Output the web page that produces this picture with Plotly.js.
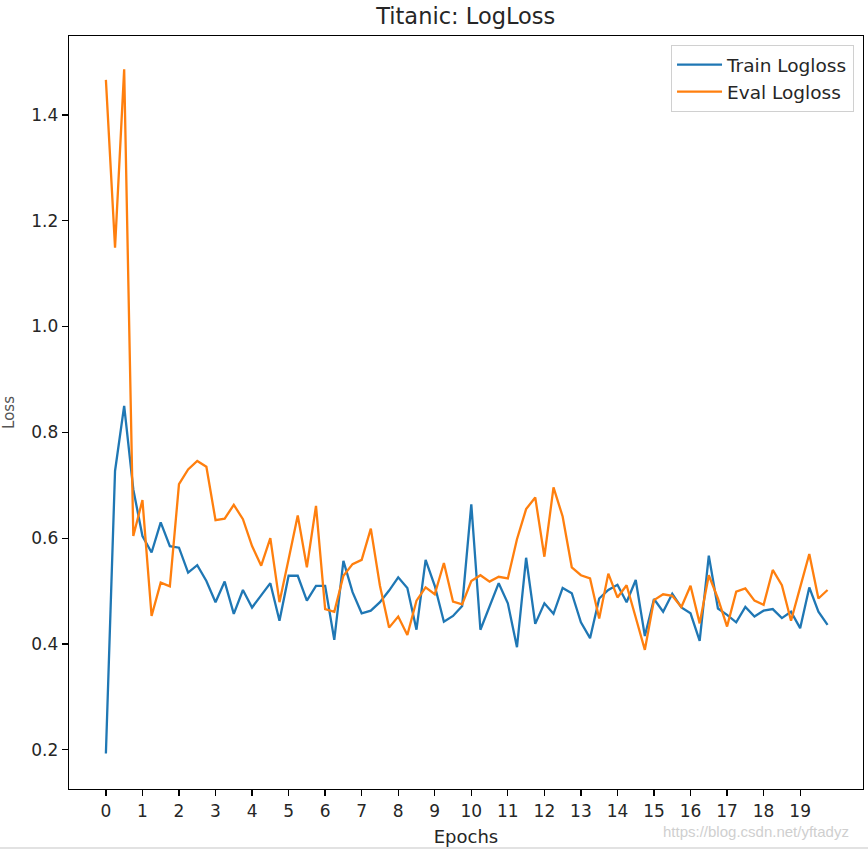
<!DOCTYPE html>
<html>
<head>
<meta charset="utf-8">
<script src="https://cdn.plot.ly/plotly-3.0.1.min.js"></script>
<style>
  html, body { margin: 0; padding: 0; background: #fff; }
  #chart { width: 868px; height: 851px; }
</style>
</head>
<body>
<div id="chart"></div>
<script>
// Epoch positions: 4 records per epoch
const epochs = [
  0, 0.25, 0.5, 0.75, 1, 1.25, 1.5, 1.75, 2, 2.25, 2.5, 2.75, 3, 3.25, 3.5, 3.75,
  4, 4.25, 4.5, 4.75, 5, 5.25, 5.5, 5.75, 6, 6.25, 6.5, 6.75, 7, 7.25, 7.5, 7.75,
  8, 8.25, 8.5, 8.75, 9, 9.25, 9.5, 9.75, 10, 10.25, 10.5, 10.75, 11, 11.25, 11.5, 11.75,
  12, 12.25, 12.5, 12.75, 13, 13.25, 13.5, 13.75, 14, 14.25, 14.5, 14.75, 15, 15.25, 15.5, 15.75,
  16, 16.25, 16.5, 16.75, 17, 17.25, 17.5, 17.75, 18, 18.25, 18.5, 18.75, 19, 19.25, 19.5, 19.75
];

const trainLogloss = [
  0.193, 0.727, 0.850, 0.692, 0.604, 0.573, 0.630, 0.585, 0.582, 0.535, 0.549, 0.519, 0.479, 0.518, 0.457, 0.502,
  0.469, 0.492, 0.515, 0.444, 0.529, 0.529, 0.482, 0.510, 0.510, 0.408, 0.557, 0.498, 0.458, 0.463, 0.479, 0.501,
  0.526, 0.506, 0.427, 0.559, 0.510, 0.442, 0.453, 0.472, 0.664, 0.427, 0.472, 0.515, 0.477, 0.394, 0.563, 0.438,
  0.477, 0.457, 0.506, 0.496, 0.441, 0.411, 0.486, 0.502, 0.512, 0.479, 0.521, 0.415, 0.485, 0.461, 0.495, 0.469,
  0.458, 0.406, 0.567, 0.467, 0.455, 0.441, 0.470, 0.452, 0.463, 0.466, 0.449, 0.461, 0.430, 0.507, 0.461, 0.436
];

const evalLogloss = [
  1.466, 1.149, 1.486, 0.604, 0.672, 0.453, 0.516, 0.509, 0.702, 0.730, 0.746, 0.735, 0.634, 0.637, 0.663, 0.636,
  0.585, 0.548, 0.600, 0.479, 0.560, 0.643, 0.545, 0.661, 0.466, 0.461, 0.529, 0.551, 0.559, 0.618, 0.510, 0.431,
  0.452, 0.417, 0.482, 0.507, 0.494, 0.553, 0.480, 0.475, 0.519, 0.530, 0.518, 0.527, 0.524, 0.598, 0.655, 0.677,
  0.565, 0.696, 0.641, 0.545, 0.530, 0.524, 0.448, 0.533, 0.488, 0.511, 0.450, 0.389, 0.483, 0.494, 0.491, 0.470,
  0.510, 0.439, 0.530, 0.486, 0.433, 0.499, 0.505, 0.482, 0.474, 0.540, 0.511, 0.444, 0.507, 0.570, 0.486, 0.502
];

const xTicks = [0,1,2,3,4,5,6,7,8,9,10,11,12,13,14,15,16,17,18,19];
const yTicks = [0.2, 0.4, 0.6, 0.8, 1.0, 1.2, 1.4];
const yTickText = ['0.2', '0.4', '0.6', '0.8', '1.0', '1.2', '1.4'];

const FONT = 'DejaVu Sans, sans-serif';
const TXT = '#262626';

const traces = [
  { x: epochs, y: trainLogloss, type: 'scatter', mode: 'lines', name: 'Train Logloss',
    line: { color: '#1f77b4', width: 2.3 } },
  { x: epochs, y: evalLogloss, type: 'scatter', mode: 'lines', name: 'Eval Logloss',
    line: { color: '#ff7f0e', width: 2.3 } }
];

const layout = {
  width: 868, height: 851,
  margin: { l: 69, r: 5, t: 36, b: 62, pad: 0 },
  paper_bgcolor: '#ffffff', plot_bgcolor: '#ffffff',
  font: { family: FONT, size: 17, color: TXT },
  showlegend: true,
  title: { text: 'Titanic: LogLoss', font: { family: FONT, size: 22.5, color: TXT },
           x: 0.5366, xanchor: 'center', xref: 'container', y: 0.981, yanchor: 'middle', yref: 'container' },
  xaxis: {
    range: [-1.01, 20.72], tickmode: 'array', tickvals: xTicks,
    showgrid: false, zeroline: false, showline: true, linecolor: '#000', linewidth: 1.3, mirror: true,
    ticks: 'outside', ticklen: 6, tickwidth: 1.3, tickcolor: '#000',
    tickfont: { family: FONT, size: 17, color: TXT },
    title: { text: 'Epochs', font: { family: FONT, size: 18, color: TXT }, standoff: 10 },
    automargin: false
  },
  yaxis: {
    range: [0.126, 1.549], tickmode: 'array', tickvals: yTicks, ticktext: yTickText,
    showgrid: false, zeroline: false, showline: true, linecolor: '#000', linewidth: 1.3, mirror: true,
    ticks: 'outside', ticklen: 6, tickwidth: 1.3, tickcolor: '#000',
    tickfont: { family: FONT, size: 17, color: TXT },
    title: { text: 'Loss', font: { family: FONT, size: 15, color: '#555' }, standoff: 13 },
    automargin: false
  },
  legend: {
    x: 0.9887, xanchor: 'right', y: 0.988, yanchor: 'top',
    bgcolor: '#ffffff', bordercolor: '#d0d0d0', borderwidth: 1,
    font: { family: FONT, size: 18.5, color: TXT },
    itemwidth: 45,
    tracegroupgap: 0
  },
  shapes: [
    { type: 'line', xref: 'paper', yref: 'paper', x0: -0.09, x1: 1.01, y0: -0.0784, y1: -0.0784,
      line: { color: '#d8d8d8', width: 1.5 } }
  ],
  annotations: [
    { text: 'https://blog.csdn.net/yftadyz', xref: 'paper', yref: 'paper',
      x: 0.985, xanchor: 'right', y: -0.056, yanchor: 'middle', showarrow: false,
      font: { family: 'Liberation Sans Narrow, Liberation Sans, sans-serif', size: 15, color: '#cfcfcf' } }
  ]
};

Plotly.newPlot('chart', traces, layout, { displayModeBar: false, staticPlot: true });
</script>
</body>
</html>
